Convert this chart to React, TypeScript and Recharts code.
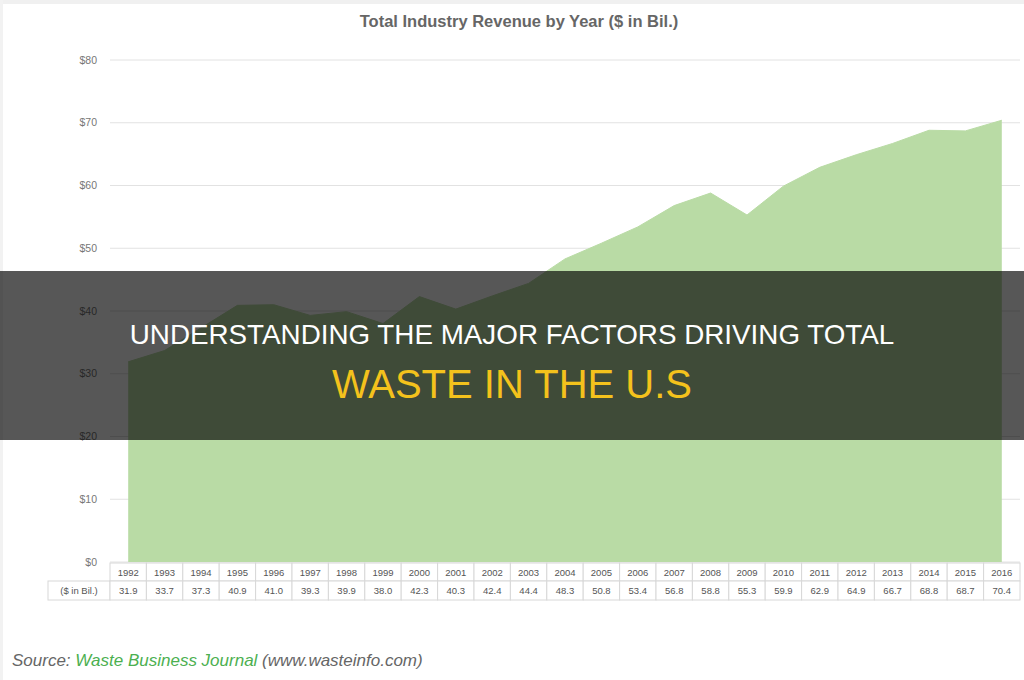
import { AreaChart, Area, XAxis, YAxis, CartesianGrid } from 'recharts';

const years = [
  1992, 1993, 1994, 1995, 1996, 1997, 1998, 1999, 2000, 2001, 2002, 2003, 2004,
  2005, 2006, 2007, 2008, 2009, 2010, 2011, 2012, 2013, 2014, 2015, 2016,
];
const revenue = [
  31.9, 33.7, 37.3, 40.9, 41.0, 39.3, 39.9, 38.0, 42.3, 40.3, 42.4, 44.4, 48.3,
  50.8, 53.4, 56.8, 58.8, 55.3, 59.9, 62.9, 64.9, 66.7, 68.8, 68.7, 70.4,
];
const yTicks = [0, 10, 20, 30, 40, 50, 60, 70, 80];

const chartTitle = 'Total Industry Revenue by Year ($ in Bil.)';
const rowHeader = '($ in Bil.)';
const bannerLine1 = 'UNDERSTANDING THE MAJOR FACTORS DRIVING TOTAL';
const bannerLine2 = 'WASTE IN THE U.S';

const data = years.map((y, i) => ({ year: y, value: revenue[i] }));

const W = 1024;
const H = 680;
const PLOT_LEFT = 110;
const PLOT_RIGHT = 1020;
const HALF_BAND = (PLOT_RIGHT - PLOT_LEFT) / years.length / 2;

// table under the plot, one column per year, drawn as the x axis ticks
function TableTick(props: any) {
  const { x, y, payload, index } = props;
  const i = years.indexOf(payload.value);
  const cellStroke = '#d8d8d8';
  const txt = { fontSize: 9.5, fill: '#555', fontFamily: 'Liberation Sans, Arial, sans-serif' };
  return (
    <g>
      {index === 0 && (
        <g>
          <rect x={x - HALF_BAND - 62} y={y + 19} width={62} height={19} fill="#fff" stroke={cellStroke} />
          <text x={x - HALF_BAND - 31} y={y + 32} textAnchor="middle" {...txt}>{rowHeader}</text>
        </g>
      )}
      <rect x={x - HALF_BAND} y={y + 1} width={HALF_BAND * 2} height={18} fill="#fff" stroke={cellStroke} />
      <rect x={x - HALF_BAND} y={y + 19} width={HALF_BAND * 2} height={19} fill="#fff" stroke={cellStroke} />
      <text x={x} y={y + 14} textAnchor="middle" {...txt}>{payload.value}</text>
      <text x={x} y={y + 32} textAnchor="middle" {...txt}>{revenue[i].toFixed(1)}</text>
    </g>
  );
}

export default function App() {
  return (
    <div
      style={{
        position: 'absolute',
        left: 0,
        top: 0,
        width: W,
        height: H,
        background: '#fff',
        overflow: 'hidden',
        fontFamily: 'Liberation Sans, Arial, sans-serif',
      }}
    >
      <div style={{ position: 'absolute', left: 0, top: 0, width: W, height: 4, background: '#f0f0f0' }} />
      <div style={{ position: 'absolute', left: 0, top: 0, width: 3, height: H, background: '#f2f2f2' }} />
      <div
        style={{
          position: 'absolute',
          left: 0,
          top: 12,
          width: 1038,
          textAlign: 'center',
          fontSize: 16.5,
          fontWeight: 'bold',
          color: '#666',
        }}
      >
        {chartTitle}
      </div>
      <div style={{ position: 'absolute', left: 0, top: 0 }}>
        <AreaChart width={W} height={H} data={data} margin={{ top: 60, right: W - PLOT_RIGHT, bottom: 0, left: 40 }}>
          <CartesianGrid vertical={false} stroke="#e2e2e2" />
          <XAxis
            dataKey="year"
            type="number"
            domain={[years[0] - 0.5, years[years.length - 1] + 0.5]}
            ticks={years}
            interval={0}
            height={118}
            axisLine={false}
            tickLine={false}
            tickSize={0}
            tickMargin={0}
            tick={<TableTick />}
          />
          <YAxis
            width={PLOT_LEFT - 40}
            domain={[0, 80]}
            ticks={yTicks}
            axisLine={false}
            tickLine={false}
            tickSize={0}
            tickMargin={13}
            tickFormatter={(v: number) => `$${v}`}
            tick={{ fontSize: 10.5, fill: '#777' }}
          />
          <Area
            type="linear"
            dataKey="value"
            stroke="#b9dba5"
            strokeWidth={1}
            fill="#b9dba5"
            fillOpacity={1}
            isAnimationActive={false}
          />
        </AreaChart>
      </div>
      <div
        style={{
          position: 'absolute',
          left: 12,
          top: 651,
          fontSize: 17,
          fontStyle: 'italic',
          color: '#666',
          whiteSpace: 'nowrap',
        }}
      >
        Source: <span style={{ color: '#4cb050' }}>Waste Business Journal</span> (www.wasteinfo.com)
      </div>
      <div
        style={{
          position: 'absolute',
          left: 0,
          top: 271,
          width: W,
          height: 169,
          background: 'rgba(0,0,0,0.66)',
          textAlign: 'center',
        }}
      >
        <div style={{ position: 'absolute', left: 0, top: 47, width: W, fontSize: 27.8, color: '#fff', lineHeight: '34px' }}>
          {bannerLine1}
        </div>
        <div style={{ position: 'absolute', left: 0, top: 91, width: W, fontSize: 40, color: '#f4c21c', lineHeight: '44px' }}>
          {bannerLine2}
        </div>
      </div>
    </div>
  );
}
